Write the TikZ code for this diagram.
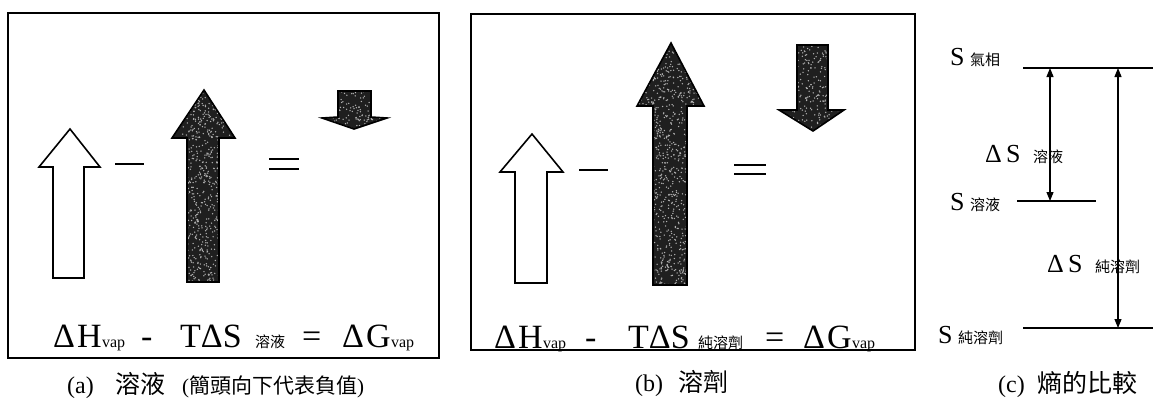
\documentclass[tikz,border=0pt]{standalone}
\usepackage{fontspec}
\setmainfont{Liberation Serif}
\newfontfamily\cjk{Noto Sans CJK TC}
\usetikzlibrary{arrows.meta}
\tikzset{
  panel/.style={draw=black, line width=1.8pt},
  hollowarrow/.style={draw=black, line width=1.6pt, fill=white, line join=miter},
  darkarrow/.style={draw=black, line width=1.6pt, line join=miter},
  darkfill/.style={fill=black!88},
  speck/.style={fill=white!70!black},
  opsign/.style={line width=1.6pt},
  eqtext/.style={font=\fontsize{34}{38}\selectfont, anchor=base west, inner sep=0pt},
  vaptext/.style={font=\fontsize{16}{18}\selectfont, anchor=base west, inner sep=0pt},
  cjksub/.style={font=\cjk\fontsize{15}{17}\selectfont, anchor=base west, inner sep=0pt},
  stext/.style={font=\fontsize{26}{30}\selectfont, anchor=base west, inner sep=0pt},
  captext/.style={font=\fontsize{24}{28}\selectfont, anchor=base west, inner sep=0pt},
  capcjk/.style={font=\cjk\fontsize{25}{28}\selectfont, anchor=base west, inner sep=0pt},
  capsmall/.style={font=\fontsize{21}{24}\selectfont, anchor=base west, inner sep=0pt},
  level/.style={line width=1.3pt},
  dbl/.style={line width=1.2pt, {Triangle[length=9pt,width=7pt]}-{Triangle[length=9pt,width=7pt]}}
}
% speckled dark arrow: #1 path, #2 x-min, #3 x-max, #4 y-min, #5 y-max, #6 count
\newcommand\myspeckarrow[6]{%
  \fill[darkfill] #1;
  \begin{scope}
    \clip #1;
    \foreach \k in {1,...,#6}{%
      \pgfmathsetmacro\px{#2+rnd*(#3-#2)}%
      \pgfmathsetmacro\py{#4+rnd*(#5-#4)}%
      \fill[speck] (\px,\py) circle (0.75);
    }
  \end{scope}
  \draw[darkarrow] #1;
}
\begin{document}
\begin{tikzpicture}[x=1pt,y=-1pt]
\pgfmathsetseed{7}
\useasboundingbox (0,0) rectangle (1153,400);

% ---------- panel (a) ----------
\draw[panel] (8,13) rectangle (439,358);
\draw[hollowarrow] (53,278) -- (53,167) -- (39,167) -- (70,129) -- (100,167) -- (84,167) -- (84,278) -- cycle;
\draw[opsign] (115,164) -- (144,164);
\myspeckarrow{(187,282) -- (187,138) -- (172,138) -- (204,90) -- (235,138) -- (219,138) -- (219,282) -- cycle}{172}{235}{90}{282}{900}
\draw[opsign] (269,159) -- (299,159) (269,169) -- (299,169);
\myspeckarrow{(338,91) -- (338,117) -- (322,118) -- (354,129) -- (387,118) -- (371,117) -- (371,91) -- cycle}{322}{387}{91}{129}{150}

\node[eqtext] (a1) at (53,347) {Δ\kern2pt H};
\node[vaptext] (a2) at (a1.base east) {vap};
\node[eqtext] (a3) at (141,347) {-};
\node[eqtext] (a4) at (180,347) {TΔS};
\node[cjksub] (a5) at (255,347) {溶液};
\node[eqtext] (a6) at (302,347) {=};
\node[eqtext] (a7) at (342,347) {Δ\kern2pt G};
\node[vaptext] (a8) at (a7.base east) {vap};

\node[captext] (ca1) at (67,393) {(a)};
\node[capcjk] (ca2) at (115,393) {溶液};
\node[capsmall] (ca3) at (182,393) {(\cjk 簡頭向下代表負值\rmfamily)};

% ---------- panel (b) ----------
\draw[panel] (471,14) rectangle (915,350);
\draw[hollowarrow] (515,283) -- (515,172) -- (500,172) -- (532,134) -- (563,172) -- (547,172) -- (547,283) -- cycle;
\draw[opsign] (579,170) -- (608,170);
\myspeckarrow{(653,285) -- (653,106) -- (637,106) -- (671,43) -- (704,106) -- (687,106) -- (687,285) -- cycle}{637}{704}{43}{285}{1150}
\draw[opsign] (734,165) -- (766,165) (734,174) -- (766,174);
\myspeckarrow{(797,45) -- (797,110) -- (779,110) -- (813,131) -- (844,110) -- (828,110) -- (828,45) -- cycle}{779}{844}{45}{131}{320}

\node[eqtext] (b1) at (494,348) {Δ\kern2pt H};
\node[vaptext] (b2) at (b1.base east) {vap};
\node[eqtext] (b3) at (585,348) {-};
\node[eqtext] (b4) at (628,348) {TΔS};
\node[cjksub] (b5) at (698,348) {純溶劑};
\node[eqtext] (b6) at (765,348) {=};
\node[eqtext] (b7) at (803,348) {Δ\kern2pt G};
\node[vaptext] (b8) at (b7.base east) {vap};

\node[captext] (cb1) at (635,391) {(b)};
\node[capcjk] (cb2) at (678,391) {溶劑};

% ---------- panel (c) ----------
\coordinate (t1) at (1023,68);
\coordinate (t2) at (1153,68);
\coordinate (m1) at (1017,201);
\coordinate (m2) at (1096,201);
\coordinate (u1) at (1023,328);
\coordinate (u2) at (1153,328);
\draw[level] (t1) -- (t2);
\draw[level] (m1) -- (m2);
\draw[level] (u1) -- (u2);
\coordinate (p1) at (1050,68);
\coordinate (p2) at (1050,201);
\coordinate (q1) at (1118,68);
\coordinate (q2) at (1118,328);
\draw[dbl] (p1) -- (p2);
\draw[dbl] (q1) -- (q2);

\node[stext] (s1) at (950,65) {S};
\node[cjksub] (s1b) at (970,65) {氣相};
\node[stext] (s2) at (950,210) {S};
\node[cjksub] (s2b) at (970,210) {溶液};
\node[stext] (s3) at (938,343) {S};
\node[cjksub] (s3b) at (958,343) {純溶劑};
\node[stext] (d1) at (985,162) {Δ\,S};
\node[cjksub] (d1b) at (1033,162) {溶液};
\node[stext] (d2) at (1047,272) {Δ\,S};
\node[cjksub] (d2b) at (1095,272) {純溶劑};

\node[captext] (cc1) at (998,392) {(c)};
\node[capcjk] (cc2) at (1037,392) {熵的比較};
\end{tikzpicture}
\end{document}
